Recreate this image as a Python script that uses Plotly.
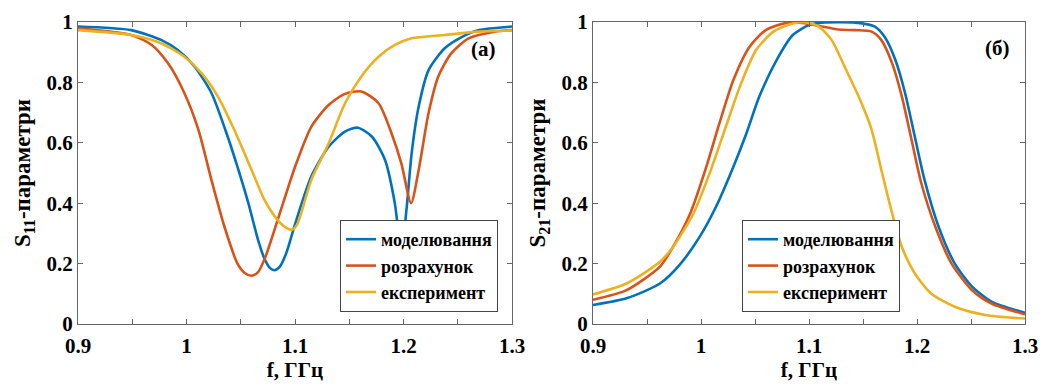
import plotly.graph_objects as go

# ---- S11 data (left panel) ----
s11_sim_f = [0.9, 0.949, 0.977, 0.992, 1.0075, 1.023, 1.038, 1.047, 1.057, 1.066, 1.072, 1.077, 1.081, 1.086, 1.092, 1.1,
             1.115, 1.131, 1.146, 1.158, 1.171, 1.183, 1.192, 1.198, 1.203, 1.2075, 1.214, 1.223, 1.238, 1.254, 1.269, 1.3]
s11_sim_v = [0.985, 0.973, 0.94, 0.907, 0.852, 0.765, 0.62, 0.52, 0.40, 0.278, 0.215, 0.185, 0.178, 0.19, 0.235, 0.33,
             0.488, 0.587, 0.637, 0.65, 0.62, 0.543, 0.40, 0.24, 0.388, 0.565, 0.72, 0.84, 0.913, 0.951, 0.973, 0.985]

s11_calc_f = [0.9, 0.949, 0.968, 0.983, 0.998, 1.011, 1.023, 1.035, 1.047, 1.054, 1.06, 1.066, 1.0725, 1.084, 1.1,
              1.115, 1.131, 1.146, 1.161, 1.177, 1.189, 1.198, 1.207, 1.214, 1.223, 1.232, 1.244, 1.26, 1.284, 1.3]
s11_calc_v = [0.979, 0.957, 0.924, 0.863, 0.765, 0.643, 0.477, 0.322, 0.2, 0.168, 0.16, 0.172, 0.22, 0.344, 0.52,
              0.653, 0.725, 0.762, 0.77, 0.731, 0.631, 0.532, 0.40, 0.51, 0.697, 0.819, 0.896, 0.946, 0.968, 0.973]

s11_exp_f = [0.9, 0.949, 0.977, 0.998, 1.014, 1.029, 1.044, 1.06, 1.072, 1.084, 1.092, 1.097, 1.102,
             1.115, 1.131, 1.146, 1.161, 1.177, 1.192, 1.2075, 1.238, 1.269, 1.3]
s11_exp_v = [0.973, 0.957, 0.929, 0.885, 0.83, 0.753, 0.643, 0.51, 0.41, 0.344, 0.318, 0.312, 0.33,
             0.477, 0.598, 0.73, 0.819, 0.885, 0.924, 0.946, 0.957, 0.968, 0.972]

# ---- S21 data (right panel) ----
s21_sim_f = [0.9, 0.931, 0.962, 0.98, 0.999, 1.014, 1.03, 1.042, 1.054, 1.07, 1.085, 1.1, 1.112, 1.143,
             1.161, 1.17, 1.18, 1.189, 1.198, 1.207, 1.22, 1.235, 1.251, 1.269, 1.3]
s21_sim_v = [0.063, 0.085, 0.134, 0.195, 0.29, 0.389, 0.521, 0.631, 0.753, 0.874, 0.957, 0.99, 0.998, 0.998,
             0.985, 0.951, 0.874, 0.764, 0.62, 0.477, 0.322, 0.2, 0.124, 0.074, 0.037]

s21_calc_f = [0.9, 0.931, 0.962, 0.974, 0.99, 1.005, 1.017, 1.03, 1.045, 1.06, 1.079, 1.096, 1.112, 1.127,
              1.143, 1.158, 1.167, 1.177, 1.186, 1.195, 1.204, 1.217, 1.232, 1.251, 1.269, 1.3]
s21_calc_v = [0.08, 0.112, 0.19, 0.255, 0.366, 0.521, 0.664, 0.808, 0.918, 0.973, 0.997, 0.996, 0.985, 0.975,
              0.973, 0.968, 0.94, 0.863, 0.753, 0.609, 0.466, 0.322, 0.2, 0.112, 0.068, 0.032]

s21_exp_f = [0.9, 0.931, 0.962, 0.974, 0.993, 1.008, 1.023, 1.036, 1.051, 1.067, 1.085, 1.096, 1.109, 1.121,
             1.133, 1.146, 1.158, 1.167, 1.177, 1.186, 1.198, 1.213, 1.235, 1.263, 1.3]
s21_exp_v = [0.098, 0.134, 0.206, 0.255, 0.366, 0.499, 0.653, 0.786, 0.907, 0.968, 0.995, 0.999, 0.985, 0.94,
             0.852, 0.753, 0.643, 0.51, 0.366, 0.255, 0.167, 0.101, 0.057, 0.03, 0.018]

series_names = ["моделювання", "розрахунок", "експеримент"]
colors = ["#0072BD", "#D95319", "#EDB120"]

x_tickvals = [0.9, 0.95, 1.0, 1.05, 1.1, 1.15, 1.2, 1.25, 1.3]
x_ticktext = ["0.9", "", "1", "", "1.1", "", "1.2", "", "1.3"]
y_tickvals = [0, 0.2, 0.4, 0.6, 0.8, 1.0]
y_ticktext = ["0", "0.2", "0.4", "0.6", "0.8", "1"]

FONT = "Liberation Serif, DejaVu Serif, Times New Roman, serif"

fig = go.Figure()

left = [(s11_sim_f, s11_sim_v), (s11_calc_f, s11_calc_v), (s11_exp_f, s11_exp_v)]
right = [(s21_sim_f, s21_sim_v), (s21_calc_f, s21_calc_v), (s21_exp_f, s21_exp_v)]

for i, (f, v) in enumerate(left):
    fig.add_trace(go.Scatter(x=f, y=v, mode="lines", name=series_names[i],
                             line=dict(color=colors[i], width=2.6, shape="spline", smoothing=0.7),
                             xaxis="x", yaxis="y", legend="legend"))
for i, (f, v) in enumerate(right):
    fig.add_trace(go.Scatter(x=f, y=v, mode="lines", name=series_names[i],
                             line=dict(color=colors[i], width=2.6, shape="spline", smoothing=0.7),
                             xaxis="x2", yaxis="y2", legend="legend2"))

axis_common = dict(showgrid=False, zeroline=False, showline=True, linecolor="#666666", linewidth=1,
                   mirror="ticks", ticks="inside", ticklen=5, tickcolor="#666666", automargin=False,
                   tickfont=dict(family=FONT, size=21, color="black", weight="bold"))

xdom_l = [78 / 1046, 512 / 1046]
xdom_r = [593 / 1046, 1025 / 1046]
ydom = [(385 - 324) / 385, (385 - 22) / 385]

title_font = dict(family=FONT, size=21, color="black", weight="bold")
xtitle = dict(text="f, ГГц", font=title_font, standoff=0)
ytitle_font = dict(family=FONT, size=23, color="black", weight="bold")

fig.update_layout(
    width=1046, height=385,
    margin=dict(l=0, r=0, t=0, b=0, autoexpand=False),
    paper_bgcolor="white", plot_bgcolor="white",
    font=dict(family=FONT, color="black"),
    xaxis=dict(domain=xdom_l, range=[0.9, 1.3], tickvals=x_tickvals, ticktext=x_ticktext,
               anchor="y", title=xtitle, ticklabelstandoff=3, **axis_common),
    yaxis=dict(domain=ydom, range=[0, 1], tickvals=y_tickvals, ticktext=y_ticktext, anchor="x",
               title=dict(text="S<sub>11</sub>-параметри", font=ytitle_font, standoff=9),
               **axis_common),
    xaxis2=dict(domain=xdom_r, range=[0.9, 1.3], tickvals=x_tickvals, ticktext=x_ticktext,
                anchor="y2", title=xtitle, ticklabelstandoff=3, **axis_common),
    yaxis2=dict(domain=ydom, range=[0, 1], tickvals=y_tickvals, ticktext=y_ticktext, anchor="x2",
                title=dict(text="S<sub>21</sub>-параметри", font=ytitle_font, standoff=9),
                **axis_common),
    legend=dict(x=498 / 1046, y=(385 - 312) / 385, xanchor="right", yanchor="bottom",
                bgcolor="white", bordercolor="#444444", borderwidth=1, tracegroupgap=0,
                itemwidth=30, font=dict(family=FONT, size=18, color="black", weight="bold")),
    legend2=dict(x=900 / 1046, y=(385 - 312) / 385, xanchor="right", yanchor="bottom",
                 bgcolor="white", bordercolor="#444444", borderwidth=1, tracegroupgap=0,
                 itemwidth=30, font=dict(family=FONT, size=18, color="black", weight="bold")),
    showlegend=True,
)

fig.add_annotation(x=483 / 1046, y=(385 - 49) / 385, xref="paper", yref="paper", text="(a)",
                   xanchor="center", yanchor="middle",
                   showarrow=False, font=dict(family=FONT, size=21, color="black", weight="bold"))
fig.add_annotation(x=997 / 1046, y=(385 - 48) / 385, xref="paper", yref="paper", text="(б)",
                   xanchor="center", yanchor="middle",
                   showarrow=False, font=dict(family=FONT, size=21, color="black", weight="bold"))

fig.write_html("out.html", config={"displayModeBar": False},
               post_script="document.body.style.margin='0px';document.body.style.padding='0px';")
